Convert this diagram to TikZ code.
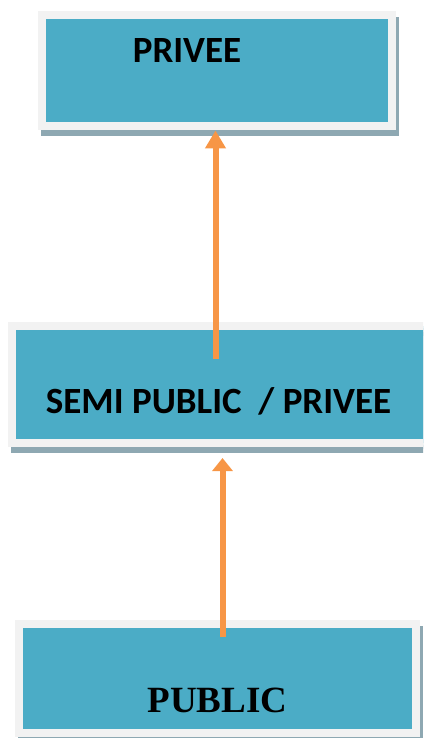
\documentclass[tikz,border=0pt]{standalone}
\usepackage{fontspec}
\setmainfont{Carlito}
\newfontfamily\timesbold{Liberation Serif}[BoldFont={Liberation Serif Bold}]
\usetikzlibrary{arrows.meta,shadows}

\definecolor{boxteal}{RGB}{75,172,198}
\definecolor{boxrim}{RGB}{242,242,242}
\definecolor{boxshade}{RGB}{142,168,178}
\definecolor{arroworange}{RGB}{247,150,70}

\begin{document}
\begin{tikzpicture}[x=1pt, y=-1pt,
  block/.style={rectangle, fill=boxteal, draw=boxrim, line width=8pt, inner sep=0pt,
    drop shadow={shadow xshift=3pt, shadow yshift=-6pt, fill=boxshade, draw=boxshade, opacity=1}},
  title/.style={font=\bfseries\fontsize{37}{42}\selectfont, inner sep=0pt, anchor=base},
  line/.style={-{Triangle[length=#1, width=20pt]}, line width=6pt, draw=arroworange},
  line/.default=15pt
]
\useasboundingbox (0,0) rectangle (423,738);
\clip (0,0) rectangle (423,738);

% boxes
\node[block, minimum width=350pt, minimum height=111.5pt] (privee) at (217,70.75) {};
\node[block, minimum width=428pt, minimum height=116.5pt] (semi) at (226,384.25) {};
\node[block, minimum width=397pt, minimum height=109pt] (public) at (217.5,678.5) {};

% texts
\node[title] (privee-txt) at ([shift={(-30,-7.75)}]privee.center) {PRIVEE};
\node[title] (semi-txt) at ([shift={(-7.5,28.75)}]semi.center) {SEMI PUBLIC\ \ / PRIVEE};
\node[title, font=\timesbold\bfseries\fontsize{37}{42}\selectfont] (public-txt) at ([shift={(0,33.5)}]public.center) {PUBLIC};

% arrows
\coordinate (from-semi) at (215.5,359);
\coordinate (from-public) at (222.5,637);
\draw[line=18pt] (from-semi) -- (from-semi |- privee.south);
\draw[line=13pt, shorten >=11.5pt] (from-public) -- (from-public |- semi.south);
\end{tikzpicture}
\end{document}
